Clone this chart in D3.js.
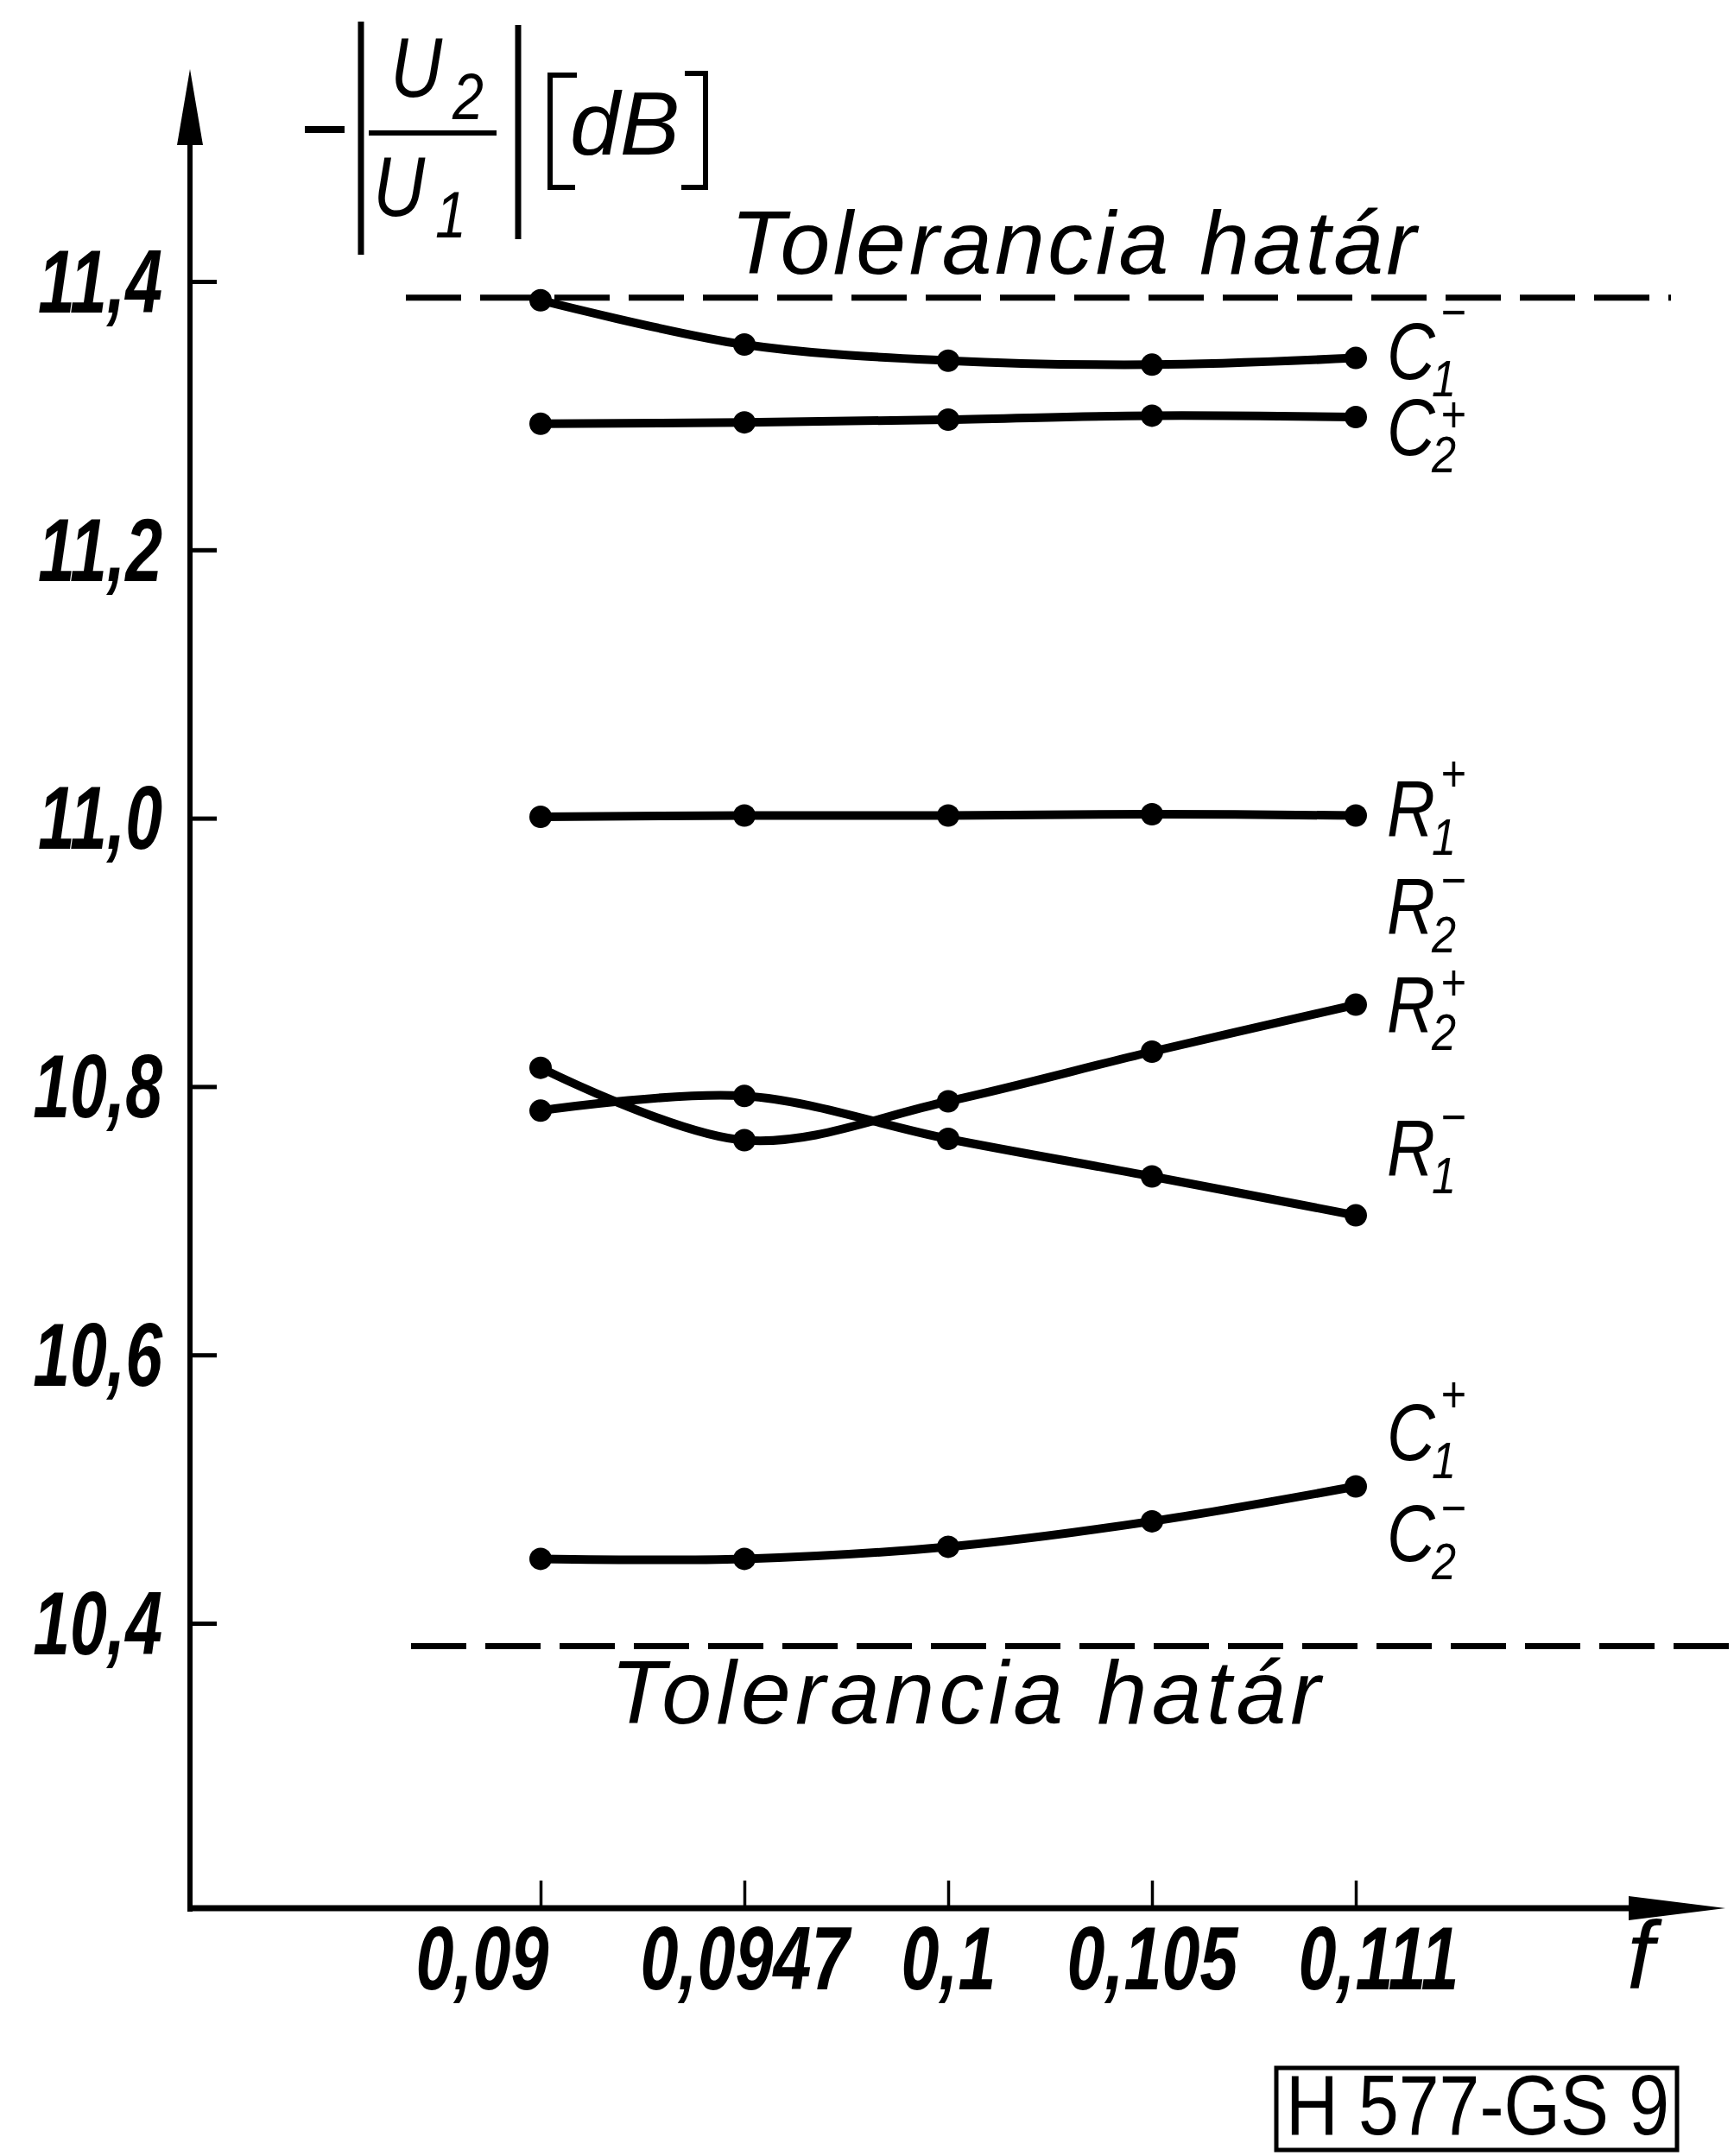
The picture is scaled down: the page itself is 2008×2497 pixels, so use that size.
<!DOCTYPE html>
<html>
<head>
<meta charset="utf-8">
<script src="https://cdn.jsdelivr.net/npm/d3@7"></script>
<style>
  body { margin: 0; background: #fff; }
  svg { display: block; }
</style>
</head>
<body>
<div id="chart"></div>
<script>
// frequency steps (categorical axis) and value ticks
const freqLabels = ["0,09", "0,0947", "0,1", "0,105", "0,111"];
const yTicks = [10.4, 10.6, 10.8, 11.0, 11.2, 11.4];

// measured curves, -|U2/U1| in dB, one value per frequency step
const c1Minus = [11.386, 11.353, 11.341, 11.338, 11.343];
const c2Plus  = [11.294, 11.295, 11.297, 11.300, 11.299];
const r1Plus  = [11.001, 11.002, 11.002, 11.003, 11.002];
const r2Plus  = [10.814, 10.760, 10.789, 10.826, 10.861];
const r1Minus = [10.782, 10.793, 10.761, 10.733, 10.704];
const c1Plus  = [10.448, 10.448, 10.457, 10.476, 10.502];

// upper and lower tolerance limits
const toleranceLimits = [11.388, 10.383];

// curve labels: letter, subscript, superscript, which curve it belongs to
const labelLetters = ["C", "C", "R", "R", "R", "R", "C", "C"];
const labelSubs    = ["1", "2", "1", "2", "2", "1", "1", "2"];
const labelSups    = ["\u2212", "+", "+", "\u2212", "+", "\u2212", "+", "\u2212"];
const labelCurve   = [0, 1, 2, 2, 3, 4, 5, 5];

const curves = [c1Minus, c2Plus, r1Plus, r2Plus, r1Minus, c1Plus];

// ---- layout ----
const W = 2008, H = 2497;
const axisX = 220, axisY = 2210, yTip = 80, xTip = 1998;
const labelDy = [24, 44, 25, 138, 32, -46, -30, 87];
const supDy   = [-77, -47, -74, -62, -58, -68, -77, -61];
const FONT = "'Liberation Sans', Arial, 'DejaVu Sans', sans-serif";

// squeeze text horizontally, the original lettering is narrow
function condense(sel, k) {
    sel.each(function () {
        const w = this.getComputedTextLength();
        d3.select(this).attr("textLength", w * k).attr("lengthAdjust", "spacingAndGlyphs");
    });
}

const svg = d3.select("#chart").append("svg")
    .attr("width", W)
    .attr("height", H)
    .style("background", "#fff");

const x = d3.scalePoint().domain(freqLabels).range([626, 1570]);
const y = d3.scaleLinear().domain([10.4, 11.4]).range([1880, 326]);

const comma = d3.formatLocale({ decimal: ",", thousands: " ", grouping: [3], currency: ["", ""] });

// y axis ticks + labels
const yAxis = svg.append("g")
    .attr("transform", `translate(${axisX},0)`)
    .call(d3.axisLeft(y).tickValues(yTicks).tickSizeInner(-31).tickSizeOuter(0)
        .tickPadding(32).tickFormat(comma.format(".1f")));
yAxis.select(".domain").remove();
yAxis.selectAll(".tick line").attr("stroke", "#000").attr("stroke-width", 5);
yAxis.selectAll(".tick text")
    .attr("fill", "#000")
    .attr("dy", "0.34em")
    .style("font-family", FONT)
    .style("font-style", "italic")
    .style("font-weight", "bold")
    .style("font-size", "104px")
    .call(condense, 0.74);

// x axis ticks + labels
const xAxis = svg.append("g")
    .attr("transform", `translate(0,${axisY})`)
    .call(d3.axisBottom(x).tickSizeInner(-32).tickSizeOuter(0).tickPadding(20));
xAxis.select(".domain").remove();
xAxis.selectAll(".tick line").attr("stroke", "#000").attr("stroke-width", 3.5);
xAxis.selectAll(".tick text")
    .attr("fill", "#000")
    .attr("dx", (d, i) => i === 0 ? -68 : (i === 4 ? 26 : 0))
    .style("font-family", FONT)
    .style("font-style", "italic")
    .style("font-weight", "bold")
    .style("font-size", "104px")
    .call(condense, 0.76);

// axis lines with arrow heads
svg.append("line")
    .attr("x1", axisX).attr("y1", axisY + 4)
    .attr("x2", axisX).attr("y2", yTip + 60)
    .attr("stroke", "#000").attr("stroke-width", 6);
svg.append("path")
    .attr("d", `M${axisX},${yTip} L${axisX + 15},${yTip + 88} L${axisX - 15},${yTip + 88} Z`)
    .attr("fill", "#000");
svg.append("line")
    .attr("x1", axisX - 3).attr("y1", axisY)
    .attr("x2", xTip - 80).attr("y2", axisY)
    .attr("stroke", "#000").attr("stroke-width", 7);
svg.append("path")
    .attr("d", `M${xTip},${axisY} L${xTip - 112},${axisY - 14} L${xTip - 112},${axisY + 14} Z`)
    .attr("fill", "#000");

// tolerance limits
const tolExtent = [[470, 1935], [476, 2008]];
svg.selectAll(".tol")
    .data(toleranceLimits)
    .enter()
    .append("line")
    .attr("class", "tol")
    .attr("x1", (d, i) => tolExtent[i][0])
    .attr("x2", (d, i) => tolExtent[i][1])
    .attr("y1", d => y(d))
    .attr("y2", d => y(d))
    .attr("stroke", "#000")
    .attr("stroke-width", 7)
    .attr("stroke-dasharray", "64 22");

const tolText = [
    { x: 846, y: y(toleranceLimits[0]) - 28, len: 794 },
    { x: 707, y: y(toleranceLimits[1]) + 90, len: 822 }
];
svg.selectAll(".toltext")
    .data(tolText)
    .enter()
    .append("text")
    .attr("class", "toltext")
    .attr("x", d => d.x)
    .attr("y", d => d.y)
    .attr("textLength", d => d.len)
    .attr("lengthAdjust", "spacing")
    .style("font-family", FONT)
    .style("font-style", "italic")
    .style("font-size", "104px")
    .text("Tolerancia határ");

// curves
const line = d3.line()
    .x((d, i) => x(freqLabels[i]))
    .y(d => y(d))
    .curve(d3.curveCatmullRom.alpha(0.5));

svg.selectAll(".curve")
    .data(curves)
    .enter()
    .append("path")
    .attr("class", "curve")
    .attr("d", line)
    .attr("fill", "none")
    .attr("stroke", "#000")
    .attr("stroke-width", 10)
    .attr("stroke-linejoin", "round");

curves.forEach(c => {
    svg.append("g").selectAll("circle")
        .data(c)
        .enter()
        .append("circle")
        .attr("cx", (d, i) => x(freqLabels[i]))
        .attr("cy", d => y(d))
        .attr("r", 13)
        .attr("fill", "#000");
});

// curve labels: letter with stacked subscript / superscript in one text
const lastF = freqLabels[freqLabels.length - 1];
const squeeze = 0.84;
const labelG = svg.append("g")
    .style("font-family", FONT)
    .style("font-style", "italic");
labelLetters.forEach((letter, i) => {
    const lx = x(lastF) + 36;
    const c = curves[labelCurve[i]];
    const by = y(c[c.length - 1]) + labelDy[i];
    const t = labelG.append("text")
        .attr("transform", `translate(${lx},${by}) scale(${squeeze},1)`);
    t.append("tspan").attr("x", 0).attr("y", 0)
        .style("font-size", "92px").text(letter);
    t.append("tspan").attr("x", 52 / squeeze).attr("dy", 20)
        .style("font-size", "60px").text(labelSubs[i]);
    t.append("tspan").attr("x", 62 / squeeze).attr("dy", supDy[i])
        .style("font-size", "60px").text(labelSups[i]);
});

// y axis title  -|U2/U1| [dB]
const title = svg.append("g");
const bar = (x1, y1, x2, y2, w) => title.append("line")
    .attr("x1", x1).attr("y1", y1).attr("x2", x2).attr("y2", y2)
    .attr("stroke", "#000").attr("stroke-width", w);
bar(353, 150, 399, 150, 8);
bar(418, 25, 418, 295, 7);
bar(427, 154, 575, 154, 6);
bar(600, 29, 600, 277, 7);
title.append("path")
    .attr("d", "M668,87 H637 V217 H666 M793,85 H817 V217 H789")
    .attr("fill", "none").attr("stroke", "#000").attr("stroke-width", 6);
const tt = (tx, ty, size, s, k) => title.append("text")
    .attr("x", tx).attr("y", ty)
    .style("font-family", FONT)
    .style("font-style", "italic")
    .style("font-size", size + "px")
    .text(s)
    .call(condense, k);
tt(452, 112, 98, "U", 0.85);
tt(524, 138, 76, "2", 0.85);
tt(432, 250, 98, "U", 0.85);
tt(504, 275, 76, "1", 0.85);
tt(660, 179, 104, "dB", 1);

// frequency axis name
svg.append("text")
    .attr("x", 1884).attr("y", 2303)
    .style("font-family", FONT)
    .style("font-style", "italic")
    .style("font-size", "112px")
    .text("f");

// figure code box
svg.append("rect")
    .attr("x", 1478).attr("y", 2395)
    .attr("width", 464).attr("height", 95)
    .attr("fill", "none").attr("stroke", "#000").attr("stroke-width", 5);
svg.append("text")
    .attr("x", 1489).attr("y", 2472)
    .attr("textLength", 444)
    .attr("lengthAdjust", "spacingAndGlyphs")
    .style("font-family", FONT)
    .style("font-size", "98px")
    .text("H 577-GS 9");
</script>
</body>
</html>
